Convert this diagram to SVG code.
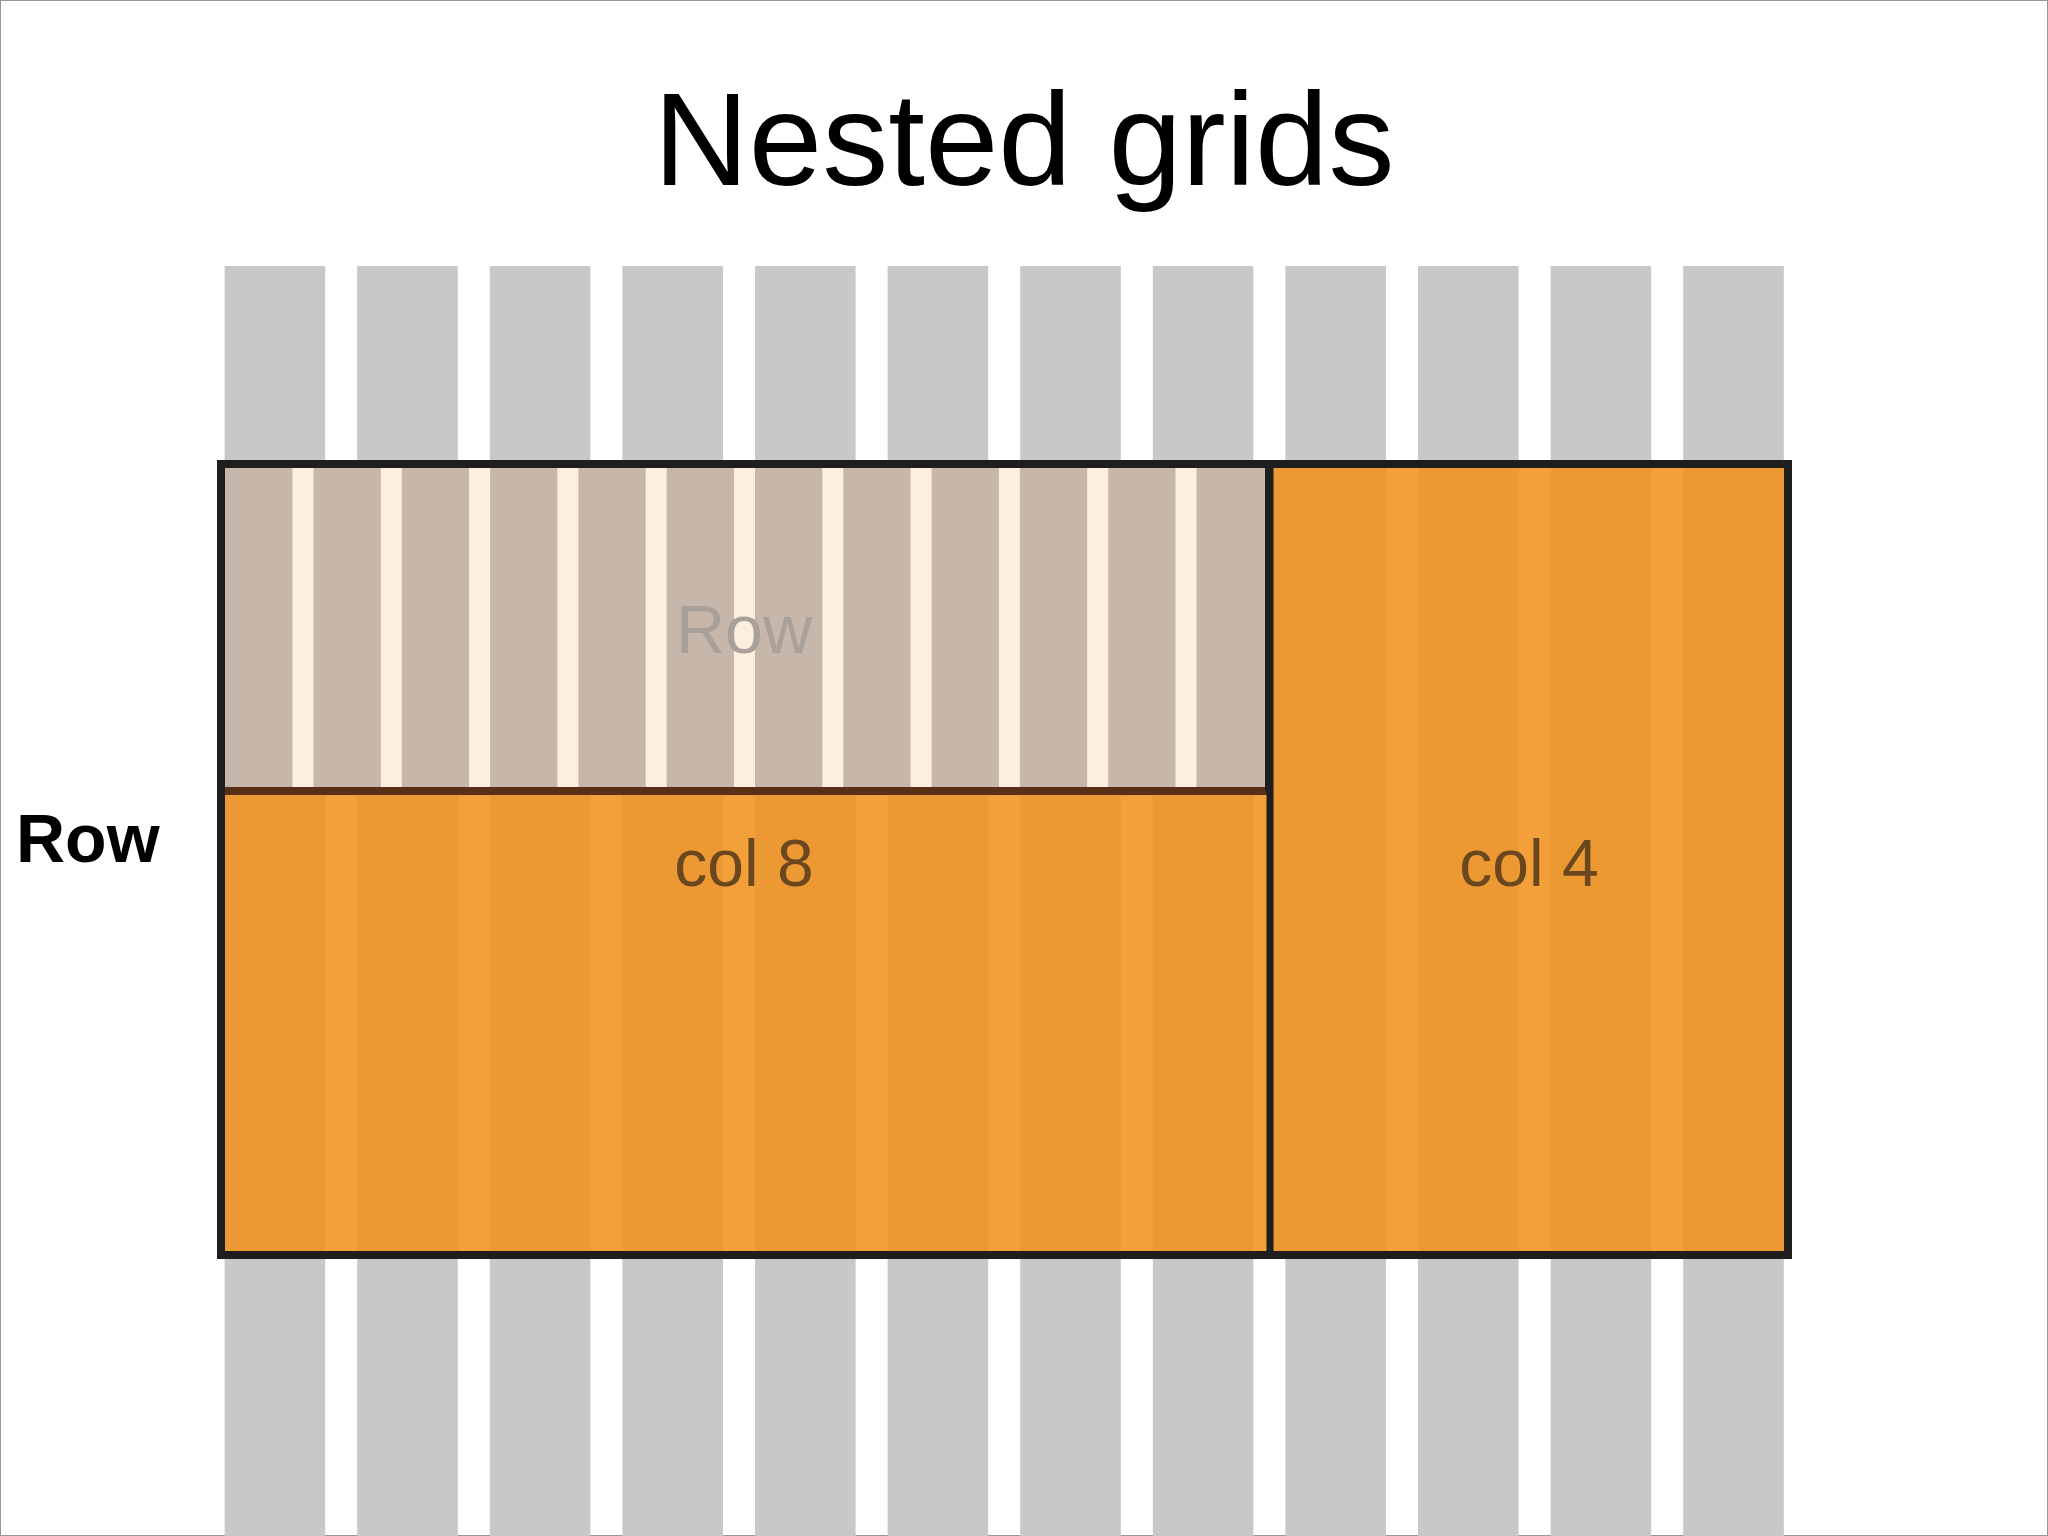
<svg xmlns="http://www.w3.org/2000/svg" width="2048" height="1536" viewBox="0 0 2048 1536">
<style>
.g{fill:#c8c8c8}
.lt{fill:#f3a03b}
.st{fill:#fdefe0}
text{font-family:"Liberation Sans",Arial,sans-serif}
</style>
<rect x="0" y="0" width="2048" height="1536" fill="#fff" stroke="#999" stroke-width="2"/>
<text x="1024" y="185" font-size="132" text-anchor="middle" fill="#000">Nested grids</text>
<g id="grid">
<rect class="g" x="224.6" y="266" width="100.6" height="1270"/>
<rect class="g" x="357.2" y="266" width="100.6" height="1270"/>
<rect class="g" x="489.8" y="266" width="100.6" height="1270"/>
<rect class="g" x="622.4" y="266" width="100.6" height="1270"/>
<rect class="g" x="755" y="266" width="100.6" height="1270"/>
<rect class="g" x="887.6" y="266" width="100.6" height="1270"/>
<rect class="g" x="1020.2" y="266" width="100.6" height="1270"/>
<rect class="g" x="1152.8" y="266" width="100.6" height="1270"/>
<rect class="g" x="1285.4" y="266" width="100.6" height="1270"/>
<rect class="g" x="1418" y="266" width="100.6" height="1270"/>
<rect class="g" x="1550.6" y="266" width="100.6" height="1270"/>
<rect class="g" x="1683.2" y="266" width="100.6" height="1270"/>
</g>
<g id="row">
<rect x="221" y="464" width="1567" height="791" fill="#ec9833"/>
<rect class="lt" x="325.2" y="464" width="32" height="791"/>
<rect class="lt" x="457.8" y="464" width="32" height="791"/>
<rect class="lt" x="590.4" y="464" width="32" height="791"/>
<rect class="lt" x="723" y="464" width="32" height="791"/>
<rect class="lt" x="855.6" y="464" width="32" height="791"/>
<rect class="lt" x="988.2" y="464" width="32" height="791"/>
<rect class="lt" x="1120.8" y="464" width="32" height="791"/>
<rect class="lt" x="1253.4" y="464" width="14" height="791"/>
<rect class="lt" x="1386" y="464" width="32" height="791"/>
<rect class="lt" x="1518.6" y="464" width="32" height="791"/>
<rect class="lt" x="1651.2" y="464" width="32" height="791"/>
</g>
<g id="inner-row">
<rect x="222" y="465" width="1045" height="325" fill="#c6b7aa"/>
<rect class="st" x="292.5" y="468" width="21" height="320"/>
<rect class="st" x="380.8" y="468" width="21" height="320"/>
<rect class="st" x="469.1" y="468" width="21" height="320"/>
<rect class="st" x="557.4" y="468" width="21" height="320"/>
<rect class="st" x="645.7" y="468" width="21" height="320"/>
<rect class="st" x="734" y="468" width="21" height="320"/>
<rect class="st" x="822.3" y="468" width="21" height="320"/>
<rect class="st" x="910.6" y="468" width="21" height="320"/>
<rect class="st" x="998.9" y="468" width="21" height="320"/>
<rect class="st" x="1087.2" y="468" width="21" height="320"/>
<rect class="st" x="1175.5" y="468" width="21" height="320"/>
<line x1="222" y1="791" x2="1267" y2="791" stroke="#573015" stroke-width="8"/>
<text x="744" y="653" font-size="68" text-anchor="middle" fill="#aaa09a">Row</text>
</g>
<g id="frame" fill="none" stroke="#1e1e1e">
<rect x="221" y="464" width="1567" height="791" stroke-width="8"/>
<line x1="1270" y1="464" x2="1270" y2="1255" stroke-width="7"/>
<line x1="1267" y1="464" x2="1267" y2="791" stroke-width="4"/>
</g>
<g id="labels">
<text x="744" y="886" font-size="66" text-anchor="middle" fill="#6b4720">col 8</text>
<text x="1529" y="886" font-size="66" text-anchor="middle" fill="#6b4720">col 4</text>
<text x="16" y="862" font-size="68" font-weight="bold" fill="#000">Row</text>
</g>
</svg>
